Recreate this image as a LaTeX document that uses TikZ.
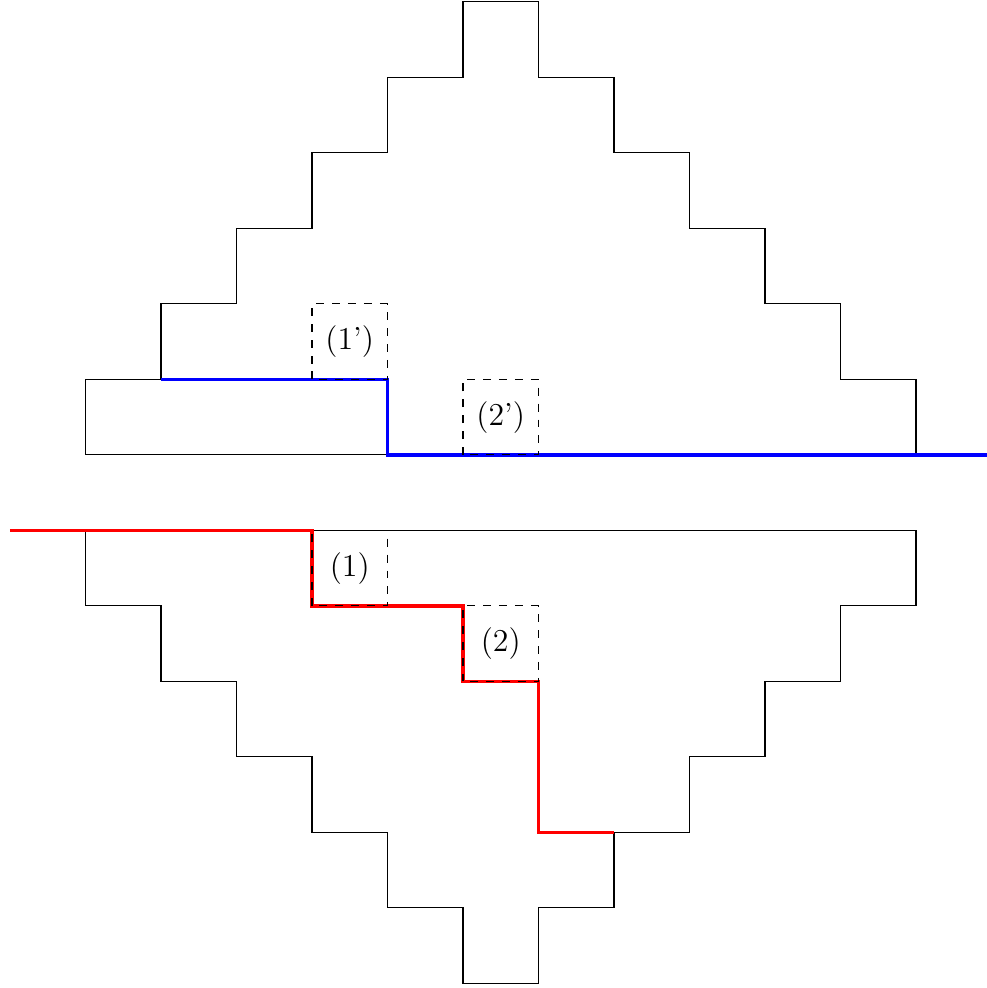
\documentclass[tikz,border=0pt]{standalone}
\begin{document}
\begin{tikzpicture}[x=1cm,y=1cm,
  outline/.style={draw=black,line width=0.4pt},
  bluepath/.style={draw=blue,line width=1.2pt},
  redpath/.style={draw=red,line width=1.2pt},
  dashbox/.style={draw=black,dashed,line width=0.4pt},
  lbl/.style={font=\large,inner sep=0pt}]
\useasboundingbox (-0.132,-0.06) rectangle (12.94,13.026);
% upper staircase shape
\draw[outline] (1,7) -- (1,8) -- (2,8) -- (2,9) -- (3,9) -- (3,10) -- (4,10) -- (4,11)
  -- (5,11) -- (5,12) -- (6,12) -- (6,13) -- (7,13) -- (7,12) -- (8,12) -- (8,11)
  -- (9,11) -- (9,10) -- (10,10) -- (10,9) -- (11,9) -- (11,8) -- (12,8) -- (12,7) -- cycle;
% lower staircase shape
\draw[outline] (1,6) -- (12,6) -- (12,5) -- (11,5) -- (11,4) -- (10,4) -- (10,3) -- (9,3)
  -- (9,2) -- (8,2) -- (8,1) -- (7,1) -- (7,0) -- (6,0) -- (6,1) -- (5,1) -- (5,2)
  -- (4,2) -- (4,3) -- (3,3) -- (3,4) -- (2,4) -- (2,5) -- (1,5) -- cycle;
% coloured paths
\draw[bluepath] (2,8) -- (5,8) -- (5,7) -- (12.94,7);
\draw[redpath] (0,6) -- (4,6) -- (4,5) -- (6,5) -- (6,4) -- (7,4) -- (7,2) -- (8,2);
% dashed boxes
\draw[dashbox] (4,8) rectangle (5,9);
\draw[dashbox] (6,7) rectangle (7,8);
\draw[dashbox] (4,5) rectangle (5,6);
\draw[dashbox] (6,4) rectangle (7,5);
% labels
\node[lbl] (l1p) at (4.5,8.5) {(1')};
\node[lbl] (l2p) at (6.5,7.5) {(2')};
\node[lbl] (l1) at (4.5,5.5) {(1)};
\node[lbl] (l2) at (6.5,4.5) {(2)};
\end{tikzpicture}
\end{document}
